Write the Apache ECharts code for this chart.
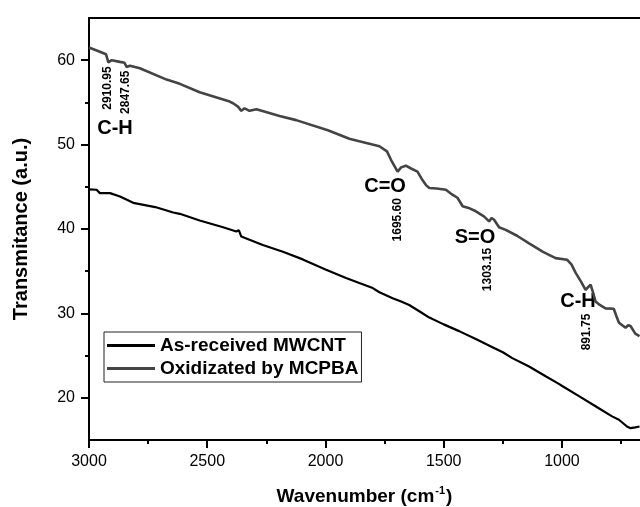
<!DOCTYPE html>
<html>
<head>
<meta charset="utf-8">
<title>FTIR MWCNT</title>
<script src="https://cdn.jsdelivr.net/npm/echarts@6/dist/echarts.min.js"></script>
<style>
  html, body { margin: 0; padding: 0; background: #fff; }
  #ftirChart { width: 640px; height: 507px; }
</style>
</head>
<body>
<div id="ftirChart"></div>
<script>
  // 数据 (wavenumber cm-1, transmitance a.u.)
  var receivedWave = [3000, 2968, 2954, 2911, 2869, 2813, 2720, 2644, 2616, 2532, 2433, 2377, 2366, 2356, 2265, 2180, 2096, 2000, 1913, 1857, 1800, 1772, 1716, 1680, 1646, 1600, 1561, 1500, 1435, 1360, 1294, 1250, 1210, 1139, 1069, 1013, 999, 928, 858, 788, 759, 725, 710, 690, 672]
  var receivedValue = [44.7, 44.65, 44.25, 44.25, 43.85, 43.1, 42.6, 41.95, 41.8, 41.0, 40.2, 39.7, 39.85, 39.1, 38.1, 37.3, 36.4, 35.2, 34.2, 33.6, 33.0, 32.5, 31.8, 31.4, 31.0, 30.2, 29.5, 28.7, 27.9, 26.9, 26.0, 25.4, 24.7, 23.7, 22.55, 21.65, 21.4, 20.2, 19.0, 17.8, 17.4, 16.6, 16.4, 16.5, 16.6]
  var oxidizedWave = [3000, 2954, 2928, 2918, 2904, 2869, 2850, 2841, 2827, 2785, 2672, 2616, 2532, 2405, 2391, 2370, 2356, 2342, 2321, 2292, 2194, 2124, 1990, 1899, 1857, 1772, 1740, 1723, 1695, 1680, 1660, 1640, 1611, 1590, 1575, 1561, 1530, 1491, 1470, 1442, 1420, 1395, 1364, 1330, 1308, 1298, 1287, 1266, 1238, 1190, 1139, 1080, 1027, 978, 960, 942, 920, 900, 893, 879, 870, 858, 840, 816, 781, 770, 759, 731, 720, 710, 690, 672]
  var oxidizedValue = [61.5, 61.0, 60.7, 59.75, 60.0, 59.8, 59.7, 59.2, 59.35, 59.05, 57.7, 57.2, 56.2, 55.1, 54.9, 54.5, 54.0, 54.3, 54.0, 54.2, 53.4, 52.9, 51.7, 50.7, 50.4, 49.8, 49.2, 48.2, 46.8, 47.3, 47.5, 47.2, 46.8, 45.8, 45.2, 44.85, 44.8, 44.65, 44.2, 43.7, 42.7, 42.5, 42.1, 41.5, 40.9, 41.3, 41.1, 40.2, 39.9, 39.2, 38.3, 37.3, 36.55, 36.35, 35.8, 34.8, 33.8, 32.8, 32.6, 33.4, 32.6, 31.4, 31.0, 30.6, 30.55, 29.7, 28.9, 28.3, 28.6, 28.5, 27.6, 27.3]

  // 峰标注
  var peakText = ['2910.95', '2847.65', 'C-H', 'C=O', '1695.60', 'S=O', '1303.15', 'C-H', '891.75']
  var peakWave = [2920, 2844, 2890, 1748, 1693, 1368, 1313, 932, 894]
  var peakValue = [56.7, 56.2, 51.9, 45.0, 41.1, 39.0, 35.2, 31.4, 27.8]

  var xMajorTicks = [3000, 2500, 2000, 1500, 1000]
  var xMinorTicks = [2750, 2250, 1750, 1250, 750]
  var yMajorTicks = [20, 30, 40, 50, 60]
  var yMinorTicks = [25, 35, 45, 55]

  var seriesNames = ['As-received MWCNT', 'Oxidizated by MCPBA']

  var fontName = "'Liberation Sans', Arial, sans-serif"

  function pairs (xs, ys) {
    return xs.map(function (x, i) { return [x, ys[i]] })
  }

  var peakData = peakText.map(function (t, i) {
    var isNum = /^[0-9]/.test(t)
    return {
      value: [peakWave[i], peakValue[i]],
      name: t,
      label: {
        rotate: isNum ? 90 : 0,
        fontSize: isNum ? 12 : 20,
        color: '#000'
      }
    }
  })

  var chart = echarts.init(document.getElementById('ftirChart'), null, {renderer: 'canvas'})
  chart.setOption({
    animation: false,
    backgroundColor: '#fff',
    textStyle: { fontFamily: fontName },
    grid: { left: 89, right: 0, top: 18, bottom: 67, containLabel: false, outerBoundsMode: 'none' },
    legend: {
      data: seriesNames,
      orient: 'vertical',
      left: 104,
      top: 332,
      itemWidth: 48,
      itemHeight: 3,
      itemGap: 4,
      icon: 'rect',
      padding: [4, 3, 4, 3],
      borderColor: '#222',
      borderWidth: 1,
      borderRadius: 0,
      textStyle: { fontFamily: fontName, fontSize: 19, fontWeight: 'bold', color: '#000', lineHeight: 19 },
      selectedMode: false
    },
    xAxis: [
      {
        type: 'value',
        inverse: true,
        min: 670,
        max: 3000,
        position: 'bottom',
        name: '{b|Wavenumber (cm}{s|-1}{b|)}',
        nameLocation: 'middle',
        nameGap: 45,
        nameTextStyle: {
          rich: {
            b: { fontFamily: fontName, fontSize: 19, fontWeight: 'bold', color: '#000' },
            s: { fontFamily: fontName, fontSize: 11, fontWeight: 'bold', color: '#000', padding: [0, 1, 13, 1] }
          }
        },
        axisLine: { show: true, lineStyle: { color: '#000', width: 2 } },
        axisTick: { show: true, customValues: xMajorTicks, length: 8, lineStyle: { color: '#000', width: 2 } },
        axisLabel: {
          customValues: xMajorTicks,
          margin: 14,
          fontSize: 16,
          color: '#000',
          fontFamily: fontName,
          formatter: function (v) { return String(v) }
        },
        splitLine: { show: false }
      },
      {
        // 顶部边框
        type: 'value',
        inverse: true,
        min: 670,
        max: 3000,
        position: 'top',
        axisLine: { show: true, lineStyle: { color: '#000', width: 2 } },
        axisTick: { show: false },
        axisLabel: { show: false },
        splitLine: { show: false }
      },
      {
        // 次刻度
        type: 'value',
        inverse: true,
        min: 670,
        max: 3000,
        position: 'bottom',
        axisLine: { show: false },
        axisTick: { show: true, customValues: xMinorTicks, length: 4, lineStyle: { color: '#000', width: 2 } },
        axisLabel: { show: false },
        splitLine: { show: false }
      }
    ],
    yAxis: [
      {
        type: 'value',
        min: 15,
        max: 65,
        position: 'left',
        name: 'Transmitance (a.u.)',
        nameLocation: 'middle',
        nameGap: 58,
        nameTextStyle: { fontFamily: fontName, fontSize: 20, fontWeight: 'bold', color: '#000' },
        axisLine: { show: true, lineStyle: { color: '#000', width: 2 } },
        axisTick: { show: true, customValues: yMajorTicks, length: 8, lineStyle: { color: '#000', width: 2 } },
        axisLabel: { customValues: yMajorTicks, margin: 14, fontSize: 16, color: '#000', fontFamily: fontName },
        splitLine: { show: false }
      },
      {
        type: 'value',
        min: 15,
        max: 65,
        position: 'left',
        axisLine: { show: false },
        axisTick: { show: true, customValues: yMinorTicks, length: 4, lineStyle: { color: '#000', width: 2 } },
        axisLabel: { show: false },
        splitLine: { show: false }
      }
    ],
    series: [
      {
        name: seriesNames[0],
        type: 'line',
        data: pairs(receivedWave, receivedValue),
        showSymbol: false,
        color: '#000',
        lineStyle: { color: '#000', width: 2.2 },
        silent: true
      },
      {
        name: seriesNames[1],
        type: 'line',
        data: pairs(oxidizedWave, oxidizedValue),
        showSymbol: false,
        color: '#444',
        lineStyle: { color: '#444', width: 2.6 },
        silent: true
      },
      {
        name: 'peaks',
        type: 'scatter',
        symbolSize: 0,
        silent: true,
        color: '#000',
        itemStyle: { opacity: 1 },
        data: peakData,
        label: {
          show: true,
          position: 'inside',
          formatter: '{b}',
          fontFamily: fontName,
          fontWeight: 'bold',
          color: '#000',
          textBorderWidth: 0,
          align: 'center',
          verticalAlign: 'middle'
        }
      }
    ]
  })
</script>
</body>
</html>
